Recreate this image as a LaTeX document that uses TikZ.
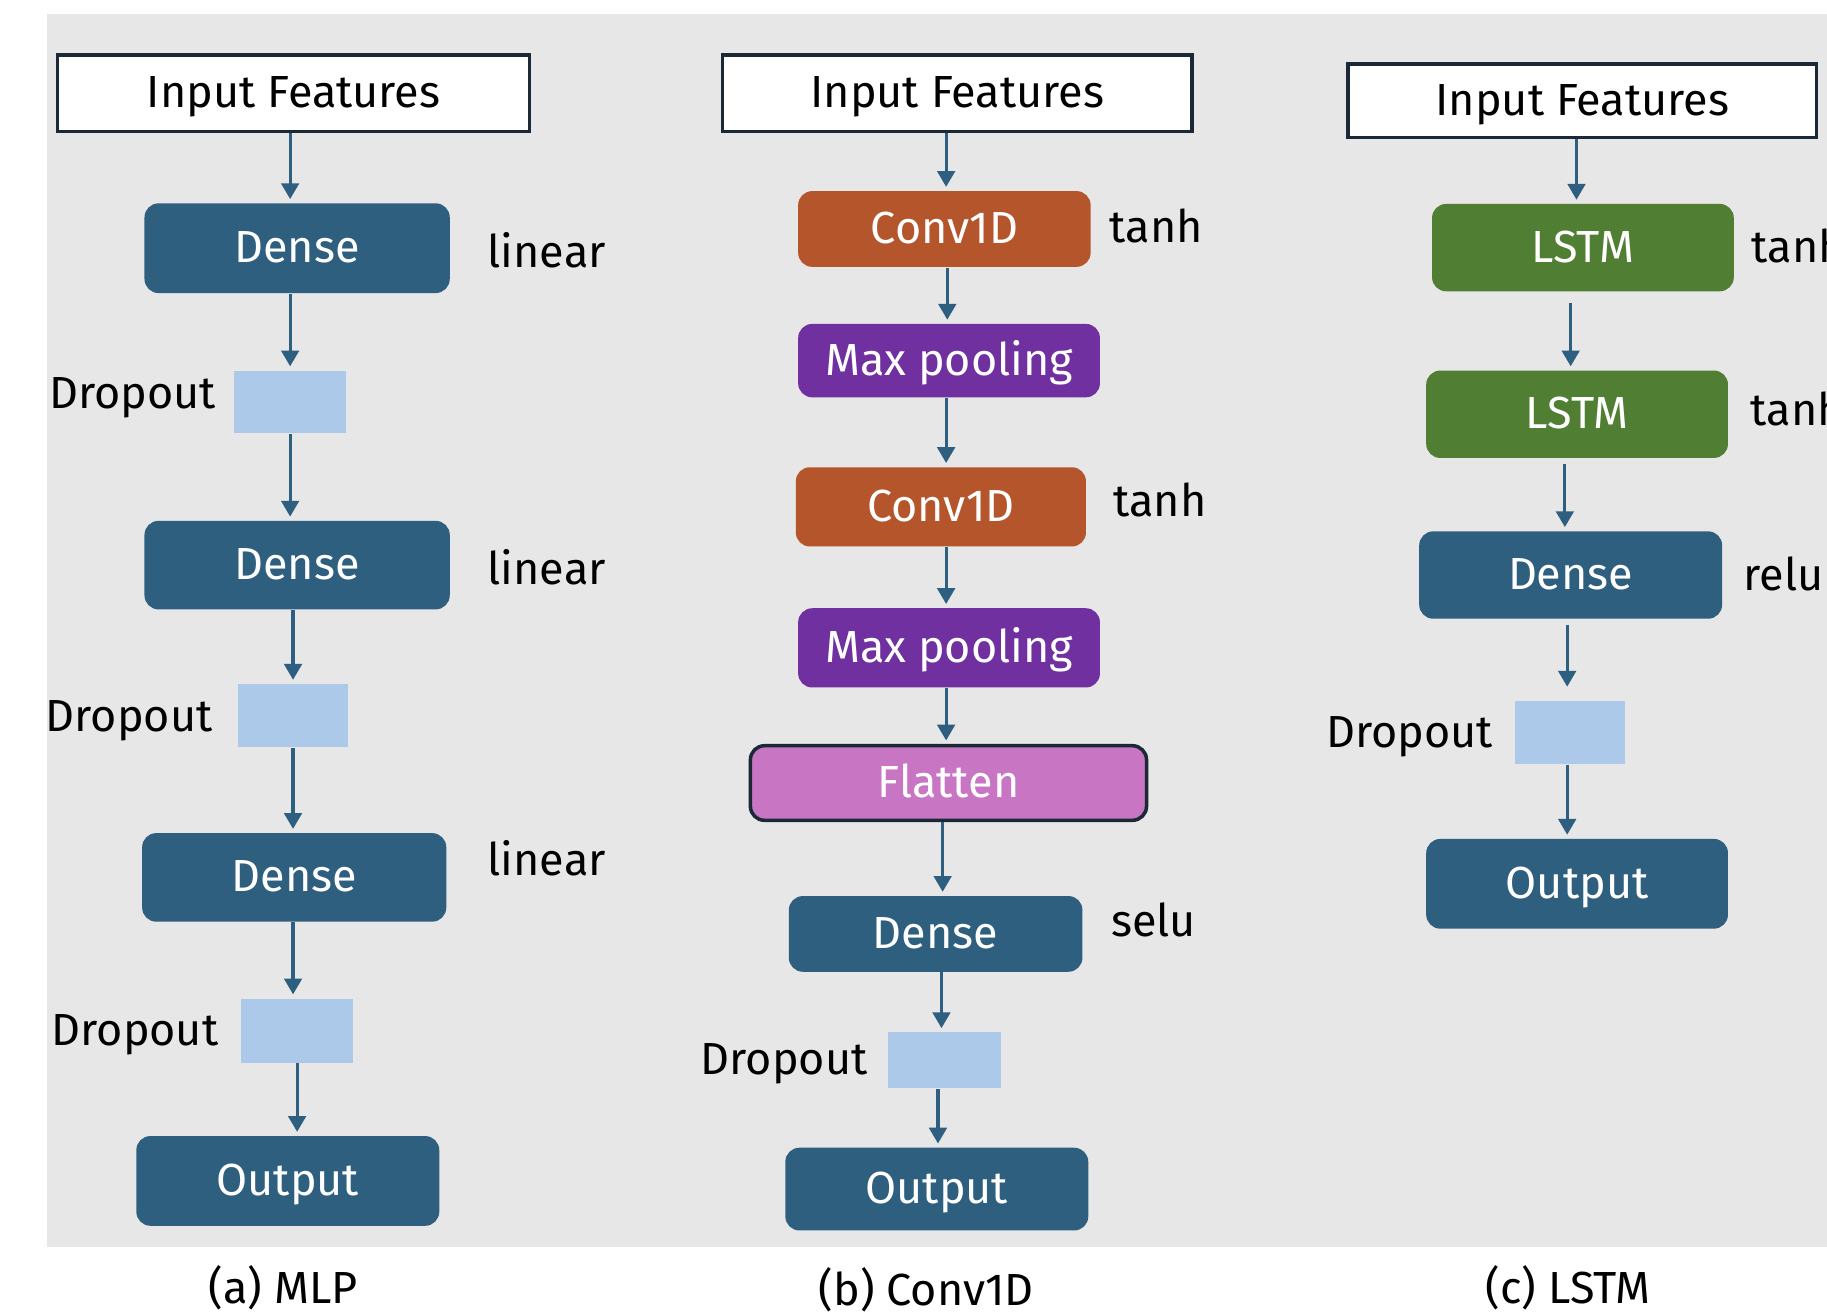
\documentclass[tikz,border=0pt]{standalone}
\usepackage{fontspec}
\setmainfont{Fira Sans}
\usetikzlibrary{arrows.meta}

\definecolor{densecol}{HTML}{2E5F7F}
\definecolor{convcol}{HTML}{B5552B}
\definecolor{poolcol}{HTML}{7030A0}
\definecolor{lstmcol}{HTML}{507E32}
\definecolor{flatcol}{HTML}{C875C4}
\definecolor{dropcol}{HTML}{ADC9EA}
\definecolor{bgcol}{HTML}{E7E7E7}
\definecolor{arrcol}{HTML}{2E5F80}
\definecolor{edgecol}{HTML}{1B2836}
\newcommand{\upx}{0.011652cm}

\begin{document}
\begin{tikzpicture}[x=\upx, y=-\upx,
  every node/.style={font=\fontsize{12.8}{15}\selectfont, text height=0.82em, text depth=0pt, inner sep=0pt},
  dim/.style 2 args={minimum width=#1*\upx, minimum height=#2*\upx},
  inbox/.style={draw=edgecol, line width=1pt, fill=white},
  layer/.style={rounded corners=4pt, text=white},
  dense/.style={layer, fill=densecol},
  conv/.style={layer, fill=convcol},
  pool/.style={layer, fill=poolcol},
  lstm/.style={layer, fill=lstmcol},
  flat/.style={layer, fill=flatcol, draw=edgecol, line width=1pt},
  drop/.style={fill=dropcol},
  arr/.style={draw=arrcol, line width=0.9pt, -{Triangle[width=5pt,length=4.5pt]}, shorten >=1pt}]

\useasboundingbox (0,0) rectangle (1568,1129);
\fill[bgcol] (40,12) rectangle (1568,1070);

% (a) MLP
\node[inbox, dim={405}{66}] (inA) at (252,80) {Input Features};
\node[dense, dim={262}{77}] (denseA1) at (255,213) {Dense};
\node[drop, dim={96}{54}] (dropA1) at (249,345) {};
\node[dense, dim={262}{76}] (denseA2) at (255,485) {Dense};
\node[drop, dim={95}{54}] (dropA2) at (251.5,614) {};
\node[dense, dim={261}{76}] (denseA3) at (252.5,753) {Dense};
\node[drop, dim={96}{55}] (dropA3) at (255,884.5) {};
\node[dense, dim={260}{77}] (outA) at (247,1013.5) {Output};

\node[anchor=west] (actA1) at (418,217) {linear};
\node[anchor=west] (actA2) at (418,489) {linear};
\node[anchor=west] (actA3) at (418,739) {linear};
\node[anchor=east] (labA1) at (186,338) {Dropout};
\node[anchor=east] (labA2) at (183,615) {Dropout};
\node[anchor=east] (labA3) at (188,885) {Dropout};
\node (capA) at (243,1106) {(a) MLP};

\draw[arr] (inA.south -| dropA1) -- (denseA1.north -| dropA1);
\draw[arr] (denseA1.south -| dropA1) -- (dropA1.north);
\draw[arr] (dropA1.south) -- (dropA1.south |- denseA2.north);
\draw[arr] (denseA2.south -| dropA2) -- (dropA2.north);
\draw[arr] (dropA2.south) -- (dropA2.south |- denseA3.north);
\draw[arr] (denseA3.south -| dropA2) -- (dropA2.south |- dropA3.north);
\draw[arr] (dropA3.south) -- (dropA3.south |- outA.north);

% (b) Conv1D
\node[inbox, dim={403}{66}] (inB) at (821.5,80) {Input Features};
\node[conv, dim={251}{65}] (convB1) at (810.5,196.5) {Conv1D};
\node[pool, dim={259}{63}] (poolB1) at (814.5,309.5) {Max pooling};
\node[conv, dim={249}{68}] (convB2) at (807.5,435) {Conv1D};
\node[pool, dim={259}{68}] (poolB2) at (814.5,556) {Max pooling};
\node[flat, dim={340}{64}] (flatB) at (814,672) {Flatten};
\node[dense, dim={252}{65}] (denseB) at (803,801.5) {Dense};
\node[drop, dim={97}{48}] (dropB) at (810.5,910) {};
\node[dense, dim={260}{71}] (outB) at (804,1020.5) {Output};

\node[anchor=west] (actB1) at (952,196) {tanh};
\node[anchor=west] (actB2) at (955,431) {tanh};
\node[anchor=west] (actB3) at (953,791) {selu};
\node[anchor=east] (labB) at (745,910) {Dropout};
\node (capB) at (795,1108) {(b) Conv1D};

\draw[arr] (inB.south -| 812,0) -- (convB1.north -| 812,0);
\draw[arr] (convB1.south -| 813,0) -- (poolB1.north -| 813,0);
\draw[arr] (poolB1.south -| 812,0) -- (convB2.north -| 812,0);
\draw[arr] (convB2.south -| 812,0) -- (poolB2.north -| 812,0);
\draw[arr] (poolB2.south -| 812,0) -- (flatB.north -| 812,0);
\draw[arr] (flatB.south -| 809,0) -- (denseB.north -| 809,0);
\draw[arr] (denseB.south -| 808,0) -- (dropB.north -| 808,0);
\draw[arr] (dropB.south -| 805,0) -- (outB.north -| 805,0);

% (c) LSTM
\node[inbox, dim={402}{63}] (inC) at (1358,86.5) {Input Features};
\node[lstm, dim={259}{75}] (lstmC1) at (1358.5,212.5) {LSTM};
\node[lstm, dim={259}{75}] (lstmC2) at (1353.5,355.5) {LSTM};
\node[dense, dim={260}{75}] (denseC) at (1348,493.5) {Dense};
\node[drop, dim={95}{54}] (dropC) at (1347.5,629) {};
\node[dense, dim={259}{77}] (outC) at (1353.5,758.5) {Output};

\node[anchor=west] (actC1) at (1503,213) {tanh};
\node[anchor=west] (actC2) at (1502,353) {tanh};
\node[anchor=west] (actC3) at (1496,494) {relu};
\node[anchor=east] (labC) at (1282,629) {Dropout};
\node (capC) at (1346,1106) {(c) LSTM};

\draw[arr] (inC.south -| 1353,0) -- (lstmC1.north -| 1353,0);
\draw[arr] ([yshift=-3pt]lstmC1.south -| 1348,0) -- (lstmC2.north -| 1348,0);
\draw[arr] ([yshift=-1.5pt]lstmC2.south -| 1343,0) -- (denseC.north -| 1343,0);
\draw[arr] ([yshift=-1.5pt]denseC.south -| 1345,0) -- ([yshift=3pt]dropC.north -| 1345,0);
\draw[arr] (dropC.south -| 1345,0) -- (outC.north -| 1345,0);
\end{tikzpicture}
\end{document}
